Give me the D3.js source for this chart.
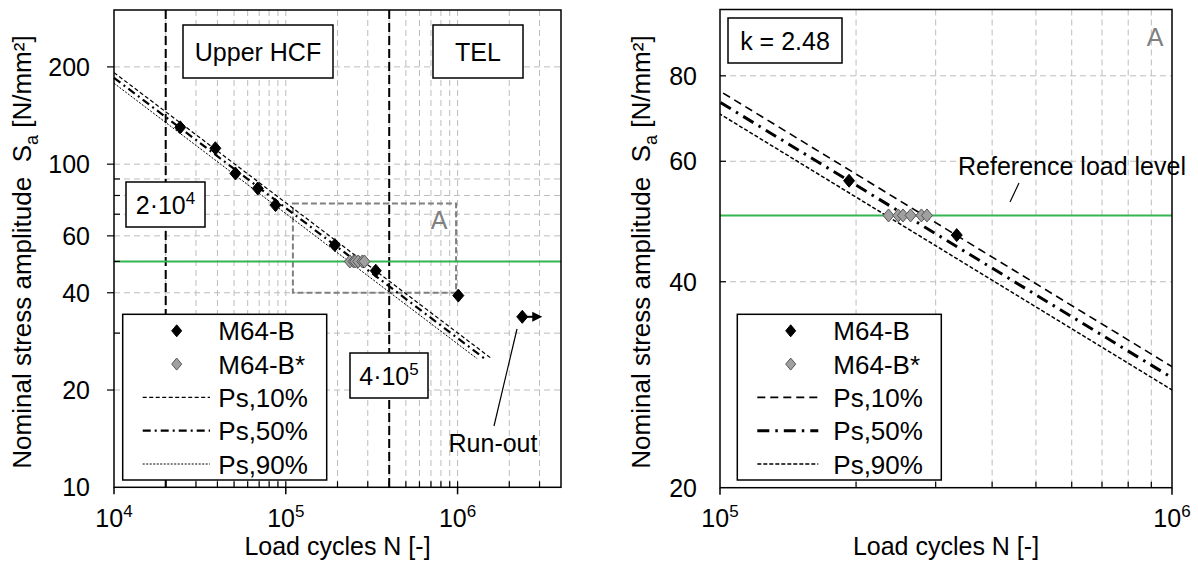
<!DOCTYPE html>
<html>
<head>
<meta charset="utf-8">
<script src="https://cdn.jsdelivr.net/npm/d3@7"></script>
<style>
  body { margin: 0; background: #fff; }
  svg text { font-family: "Liberation Sans", Arial, sans-serif; fill: #000; white-space: pre; }
</style>
</head>
<body>
<svg id="chart" width="1198" height="565"></svg>
<script>
// ---- data ----
var m64bN = [2.43e4, 3.89e4, 5.09e4, 6.87e4, 8.71e4, 1.93e5, 3.34e5, 1.01e6];
var m64bS = [130, 112, 93.6, 84.1, 74.7, 56.2, 46.8, 39.2];
var runoutN = [2.38e6];
var runoutS = [33.7];
var m64bStarN = [2.36e5, 2.48e5, 2.54e5, 2.64e5, 2.79e5, 2.87e5];
var m64bStarS = [50, 50, 50, 50, 50, 50];
// S-N lines (start and end points), k = 2.48
var ps10 = [[1e4, 192], [1.58e6, 25]];
var ps50 = [[1e4, 185], [1.44e6, 25]];
var ps90 = [[1e4, 178], [1.30e6, 25]];
var refLoad = 50;
var legendLabels = ["M64-B", "M64-B*", "Ps,10%", "Ps,50%", "Ps,90%"];

var leftYTicks = [10, 20, 40, 60, 100, 200];
var leftYMinor = [30, 50, 70, 80, 90, 300];
var leftXDecades = [4, 5, 6];
var rightYTicks = [20, 40, 60, 80];
var rightXDecades = [5, 6];

var svg = d3.select("#chart");

function diamond(g, x, y, w, h, fill, stroke) {
    g.append("path")
        .attr("d", "M" + x + "," + (y - h) + "L" + (x + w) + "," + y + "L" + x + "," + (y + h) + "L" + (x - w) + "," + y + "Z")
        .attr("fill", fill).attr("stroke", stroke).attr("stroke-width", 1);
}

function powLabel(g, x, y, base, exp, anchor) {
    var t = g.append("text").attr("x", x).attr("y", y).attr("font-size", 25).attr("text-anchor", anchor || "middle");
    t.append("tspan").text(base);
    t.append("tspan").attr("dy", -10).attr("font-size", 17).text(exp);
    return t;
}

function textBox(g, x0, y0, x1, y1) {
    g.append("rect").attr("x", x0).attr("y", y0).attr("width", x1 - x0).attr("height", y1 - y0)
        .attr("fill", "#fff").attr("stroke", "#000").attr("stroke-width", 1.5);
}

function yLabel(g, x, y) {
    var t = g.append("text").attr("transform", "translate(" + x + "," + y + ") rotate(-90)")
        .attr("text-anchor", "middle").attr("font-size", 26);
    t.append("tspan").text("Nominal stress amplitude  S");
    t.append("tspan").attr("dy", 7).attr("font-size", 18).text("a");
    t.append("tspan").attr("dy", -7).text(" [N/mm²]");
}

// ================= LEFT PLOT =================
var xL = d3.scaleLog().domain([1e4, 4e6]).range([114, 561]);
var yL = d3.scaleLog().domain([10, 300]).range([487.3, 10]);
var gL = svg.append("g");

// grid
var xGridL = [];
leftXDecades.forEach(function(p) {
    for (var k = 1; k <= 9; k++) {
        var v = k * Math.pow(10, p);
        if (v > 1e4 && v < 4e6) xGridL.push(v);
    }
});
gL.selectAll(".vg").data(xGridL).enter().append("line")
    .attr("x1", d => xL(d)).attr("x2", d => xL(d)).attr("y1", yL(300)).attr("y2", yL(10))
    .attr("stroke", "#bdbdbd").attr("stroke-width", 1).attr("stroke-dasharray", "6,4");
var yGridL = leftYTicks.concat(leftYMinor).filter(d => d > 10 && d < 300);
gL.selectAll(".hg").data(yGridL).enter().append("line")
    .attr("x1", xL(1e4)).attr("x2", xL(4e6)).attr("y1", d => yL(d)).attr("y2", d => yL(d))
    .attr("stroke", "#bdbdbd").attr("stroke-width", 1).attr("stroke-dasharray", "6,4");

// vertical limits 2e4 and 4e5
[2e4, 4e5].forEach(function(v) {
    gL.append("line").attr("x1", xL(v)).attr("x2", xL(v)).attr("y1", yL(300)).attr("y2", yL(10))
        .attr("stroke", "#000").attr("stroke-width", 2).attr("stroke-dasharray", "9,4");
});

// area A
gL.append("rect").attr("x", xL(1.1e5)).attr("y", yL(75.6))
    .attr("width", xL(9.8e5) - xL(1.1e5)).attr("height", yL(40) - yL(75.6))
    .attr("fill", "none").attr("stroke", "#808080").attr("stroke-width", 2).attr("stroke-dasharray", "6,3");
gL.append("text").attr("x", 439).attr("y", 229).attr("text-anchor", "middle").attr("font-size", 25)
    .style("fill", "#808080").text("A");

// reference load level
gL.append("line").attr("x1", xL(1e4)).attr("x2", xL(4e6)).attr("y1", yL(refLoad)).attr("y2", yL(refLoad))
    .attr("stroke", "#33b552").attr("stroke-width", 2);

// S-N lines
var lineL = d3.line().x(d => xL(d[0])).y(d => yL(d[1]));
var stylesL = [
    {data: ps10, w: 1.2, dash: "4,2.5"},
    {data: ps50, w: 2.2, dash: "8,4,2,4"},
    {data: ps90, w: 1, dash: "2,1.5"}
];
stylesL.forEach(function(s) {
    gL.append("path").attr("d", lineL(s.data)).attr("fill", "none").attr("stroke", "#000")
        .attr("stroke-width", s.w).attr("stroke-dasharray", s.dash);
});

// points
m64bStarN.forEach(function(n, i) { diamond(gL, xL(n), yL(m64bStarS[i]), 5.5, 6.5, "#a0a0a0", "#555"); });
m64bN.forEach(function(n, i) { diamond(gL, xL(n), yL(m64bS[i]), 5.5, 6.5, "#000", "#000"); });
runoutN.forEach(function(n, i) {
    var x = xL(n), y = yL(runoutS[i]);
    diamond(gL, x, y, 5.5, 6.5, "#000", "#000");
    gL.append("line").attr("x1", x).attr("x2", x + 11).attr("y1", y).attr("y2", y).attr("stroke", "#000").attr("stroke-width", 2);
    gL.append("path").attr("d", "M" + (x + 10) + "," + (y - 5) + "L" + (x + 20) + "," + y + "L" + (x + 10) + "," + (y + 5) + "Z").attr("fill", "#000");
});

// run-out annotation
gL.append("line").attr("x1", 517).attr("y1", 329).attr("x2", 494).attr("y2", 426).attr("stroke", "#000").attr("stroke-width", 1.2);
gL.append("text").attr("x", 493).attr("y", 452).attr("text-anchor", "middle").attr("font-size", 25).text("Run-out");

// text boxes
textBox(gL, 183, 25, 333, 78);
gL.append("text").attr("x", 258).attr("y", 61).attr("text-anchor", "middle").attr("font-size", 25).text("Upper HCF");
textBox(gL, 433, 25, 523, 78);
gL.append("text").attr("x", 478).attr("y", 61).attr("text-anchor", "middle").attr("font-size", 25).text("TEL");
textBox(gL, 126, 182, 205, 227);
powLabel(gL, 165.5, 214, "2·10", "4");
textBox(gL, 350, 353, 428, 398);
powLabel(gL, 389, 385, "4·10", "5");

// frame
gL.append("rect").attr("x", xL(1e4)).attr("y", yL(300)).attr("width", xL(4e6) - xL(1e4)).attr("height", yL(10) - yL(300))
    .attr("fill", "none").attr("stroke", "#000").attr("stroke-width", 1.5);

// ticks
gL.selectAll(".xt").data(xGridL).enter().append("line")
    .attr("x1", d => xL(d)).attr("x2", d => xL(d)).attr("y1", yL(10)).attr("y2", yL(10) - 6)
    .attr("stroke", "#000").attr("stroke-width", 1.2);
leftXDecades.forEach(function(p) {
    var v = Math.pow(10, p);
    gL.append("line").attr("x1", xL(v)).attr("x2", xL(v)).attr("y1", yL(10)).attr("y2", yL(10) + 7).attr("stroke", "#000").attr("stroke-width", 1.5);
    powLabel(gL, xL(v), 527, "10", String(p));
});
gL.selectAll(".yt").data(yGridL).enter().append("line")
    .attr("x1", xL(1e4)).attr("x2", d => leftYTicks.indexOf(d) >= 0 ? xL(1e4) - 7 : xL(1e4) + 6)
    .attr("y1", d => yL(d)).attr("y2", d => yL(d)).attr("stroke", "#000").attr("stroke-width", 1.2);
leftYTicks.forEach(function(v) {
    gL.append("text").attr("x", 90).attr("y", yL(v) + 9).attr("text-anchor", "end").attr("font-size", 25).text(v);
});

// legend
function legend(g, x0, y0, x1, y1, mx, lx0, lx1, tx, lineStyles, msize) {
    g.append("rect").attr("x", x0).attr("y", y0).attr("width", x1 - x0).attr("height", y1 - y0)
        .attr("fill", "#fff").attr("stroke", "#000").attr("stroke-width", 1.5);
    legendLabels.forEach(function(lab, i) {
        var y = y0 + 16.5 + i * 33.3;
        if (i === 0) diamond(g, mx, y, msize, msize + 1, "#000", "#000");
        else if (i === 1) diamond(g, mx, y, msize, msize + 1, "#a0a0a0", "#555");
        else {
            var s = lineStyles[i - 2];
            g.append("line").attr("x1", lx0).attr("x2", lx1).attr("y1", y).attr("y2", y)
                .attr("stroke", "#000").attr("stroke-width", s.w).attr("stroke-dasharray", s.dash);
        }
        g.append("text").attr("x", tx).attr("y", y + 9.5).attr("font-size", 26).text(lab);
    });
}
legend(gL, 122.7, 314.3, 326.7, 480, 176.7, 142.7, 210, 218.3, stylesL, 5);

// axis titles
gL.append("text").attr("x", 337.5).attr("y", 555).attr("text-anchor", "middle").attr("font-size", 25).text("Load cycles N [-]");
yLabel(gL, 31, 252);

// ================= RIGHT PLOT =================
var xR = d3.scaleLog().domain([1e5, 1e6]).range([720, 1172]);
var yR = d3.scaleLog().domain([20, 100]).range([487.7, 9.5]);
var gR = svg.append("g");

svg.append("clipPath").attr("id", "clipR").append("rect")
    .attr("x", 720).attr("y", 9.5).attr("width", 452).attr("height", 478.2);

var xGridR = [];
for (var k = 2; k <= 9; k++) xGridR.push(k * 1e5);
gR.selectAll(".vg").data(xGridR).enter().append("line")
    .attr("x1", d => xR(d)).attr("x2", d => xR(d)).attr("y1", yR(100)).attr("y2", yR(20))
    .attr("stroke", "#bdbdbd").attr("stroke-width", 1).attr("stroke-dasharray", "6,4");
var yGridR = [40, 60, 80];
gR.selectAll(".hg").data(yGridR).enter().append("line")
    .attr("x1", xR(1e5)).attr("x2", xR(1e6)).attr("y1", d => yR(d)).attr("y2", d => yR(d))
    .attr("stroke", "#bdbdbd").attr("stroke-width", 1).attr("stroke-dasharray", "6,4");

gR.append("line").attr("x1", xR(1e5)).attr("x2", xR(1e6)).attr("y1", yR(refLoad)).attr("y2", yR(refLoad))
    .attr("stroke", "#33b552").attr("stroke-width", 2);

var lineR = d3.line().x(d => xR(d[0])).y(d => yR(d[1]));
var stylesR = [
    {data: ps10, w: 1.6, dash: "8,5"},
    {data: ps50, w: 3, dash: "12,6,2.5,6"},
    {data: ps90, w: 1.5, dash: "4,2"}
];
var gClip = gR.append("g").attr("clip-path", "url(#clipR)");
stylesR.forEach(function(s) {
    gClip.append("path").attr("d", lineR(s.data)).attr("fill", "none").attr("stroke", "#000")
        .attr("stroke-width", s.w).attr("stroke-dasharray", s.dash);
});

var inR = n => n >= 1e5 && n <= 1e6;
m64bStarN.forEach(function(n, i) { if (inR(n)) diamond(gClip, xR(n), yR(m64bStarS[i]), 5.5, 6.5, "#a0a0a0", "#555"); });
m64bN.forEach(function(n, i) { if (inR(n)) diamond(gClip, xR(n), yR(m64bS[i]), 5.5, 6.5, "#000", "#000"); });

textBox(gR, 728, 18, 842, 63);
gR.append("text").attr("x", 785).attr("y", 50).attr("text-anchor", "middle").attr("font-size", 25).text("k = 2.48");
gR.append("text").attr("x", 1155).attr("y", 46).attr("text-anchor", "middle").attr("font-size", 25)
    .style("fill", "#808080").text("A");
gR.append("text").attr("x", 1072).attr("y", 175).attr("text-anchor", "middle").attr("font-size", 25).text("Reference load level");
gR.append("line").attr("x1", 1019).attr("y1", 183).attr("x2", 1010).attr("y2", 202).attr("stroke", "#000").attr("stroke-width", 1.2);

gR.append("rect").attr("x", xR(1e5)).attr("y", yR(100)).attr("width", xR(1e6) - xR(1e5)).attr("height", yR(20) - yR(100))
    .attr("fill", "none").attr("stroke", "#000").attr("stroke-width", 1.5);

gR.selectAll(".xt").data(xGridR).enter().append("line")
    .attr("x1", d => xR(d)).attr("x2", d => xR(d)).attr("y1", yR(20)).attr("y2", yR(20) - 6)
    .attr("stroke", "#000").attr("stroke-width", 1.2);
rightXDecades.forEach(function(p) {
    var v = Math.pow(10, p);
    gR.append("line").attr("x1", xR(v)).attr("x2", xR(v)).attr("y1", yR(20)).attr("y2", yR(20) + 7).attr("stroke", "#000").attr("stroke-width", 1.5);
    powLabel(gR, xR(v), 527, "10", String(p));
});
gR.selectAll(".yt").data(yGridR).enter().append("line")
    .attr("x1", xR(1e5)).attr("x2", xR(1e5) + 6).attr("y1", d => yR(d)).attr("y2", d => yR(d))
    .attr("stroke", "#000").attr("stroke-width", 1.2);
rightYTicks.forEach(function(v) {
    gR.append("text").attr("x", 697).attr("y", yR(v) + 9).attr("text-anchor", "end").attr("font-size", 25).text(v);
});

legend(gR, 737.3, 314.3, 941.3, 480, 790.7, 757.3, 818.3, 833.3, stylesR, 5);

gR.append("text").attr("x", 946).attr("y", 555).attr("text-anchor", "middle").attr("font-size", 25).text("Load cycles N [-]");
yLabel(gR, 650, 252);
</script>
</body>
</html>
